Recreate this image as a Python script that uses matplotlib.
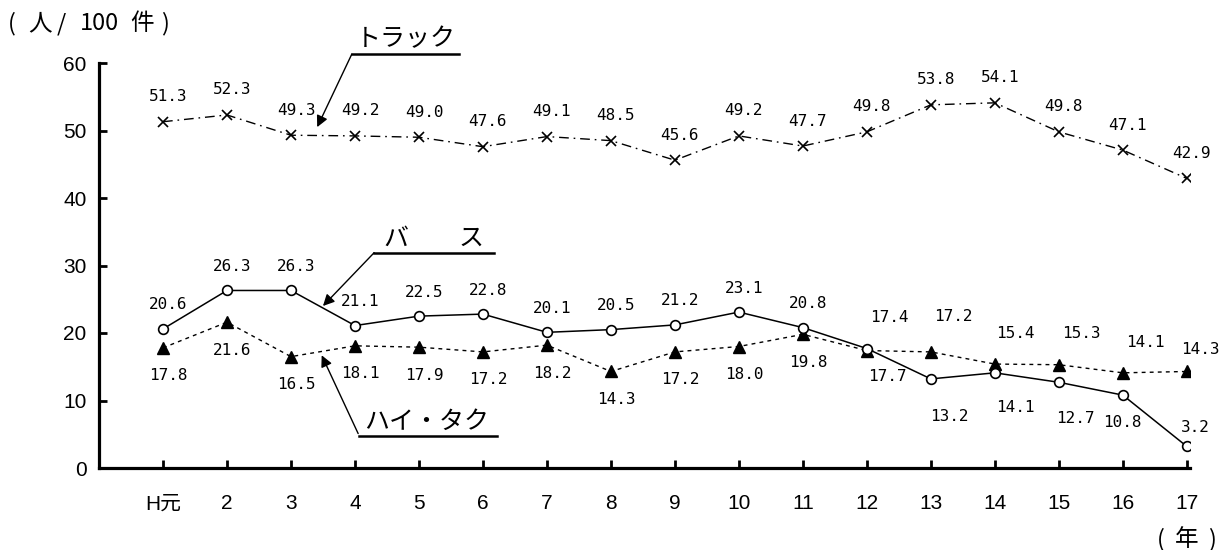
import matplotlib
matplotlib.use("Agg")
import matplotlib.pyplot as plt

plt.rcParams['font.family'] = ['Liberation Sans', 'Noto Sans CJK JP', 'DejaVu Sans']

years = ["H元", "2", "3", "4", "5", "6", "7", "8", "9", "10", "11", "12", "13", "14", "15", "16", "17"]
truck = [51.3, 52.3, 49.3, 49.2, 49.0, 47.6, 49.1, 48.5, 45.6, 49.2, 47.7, 49.8, 53.8, 54.1, 49.8, 47.1, 42.9]
bus = [20.6, 26.3, 26.3, 21.1, 22.5, 22.8, 20.1, 20.5, 21.2, 23.1, 20.8, 17.7, 13.2, 14.1, 12.7, 10.8, 3.2]
taxi = [17.8, 21.6, 16.5, 18.1, 17.9, 17.2, 18.2, 14.3, 17.2, 18.0, 19.8, 17.4, 17.2, 15.4, 15.3, 14.1, 14.3]
yticks = [0, 10, 20, 30, 40, 50, 60]

# label offsets in pixels (dx, dy; dy positive = up)
truck_off = [(5, 25)] * 17
bus_off = [(5, 24)] * 11 + [(20, -28), (18, -38), (20, -35), (16, -36), (0, -27), (9, 19)]
taxi_off = [(5, -28)] * 11 + [(22, 33), (22, 35), (20, 31), (22, 31), (23, 30), (14, 22)]

W, H = 1231, 550
fig = plt.figure(figsize=(W / 100, H / 100), dpi=100)
ax = fig.add_axes([99 / W, (H - 468) / H, 1091 / W, 405 / H])

x = list(range(len(years)))
ax.plot(x, truck, color='black', lw=1.0, linestyle=(0, (7, 3.5, 1.2, 3.5)),
        marker='x', ms=7, mew=1.2, mec='black', zorder=3)
ax.plot(x, bus, color='black', lw=1.1, linestyle='-',
        marker='o', ms=7, mfc='white', mec='black', mew=1.2, zorder=4)
ax.plot(x, taxi, color='black', lw=1.0, linestyle=(0, (2.8, 3)),
        marker='^', ms=8, mfc='black', mec='black', zorder=3)

lab_font = dict(family='DejaVu Sans Mono', fontsize=11.5, ha='center', va='center')
for series, offs in ((truck, truck_off), (bus, bus_off), (taxi, taxi_off)):
    for i, v in enumerate(series):
        dx, dy = offs[i]
        ax.annotate(f"{v:.1f}", (i, v), xytext=(dx, dy), textcoords='offset pixels',
                    annotation_clip=False, **lab_font)

ax.set_xlim(-1, 16.05)
ax.set_ylim(0, 60)
ax.set_xticks(x)
ax.set_xticklabels(years)
ax.set_yticks(yticks)
for s in ('top', 'right'):
    ax.spines[s].set_visible(False)
for s in ('left', 'bottom'):
    ax.spines[s].set_linewidth(2.3)
ax.tick_params(axis='both', direction='in', length=6, width=2, labelsize=15)
ax.tick_params(axis='x', pad=19)
ax.tick_params(axis='y', pad=9)

# series name callouts
jp = dict(family=['Noto Sans CJK JP'], fontsize=18, ha='center', va='center')
arrow = dict(arrowstyle='-|>', lw=1.0, color='black', mutation_scale=17, shrinkA=0, shrinkB=0)

ax.text(3.80, 63.6, "トラック", clip_on=False, **jp)
ax.plot([2.95, 4.63], [61.3, 61.3], color='black', lw=1.8, clip_on=False)
ax.annotate("", xy=(2.41, 50.5), xytext=(2.95, 61.3), arrowprops=arrow, annotation_clip=False)

ax.text(4.23, 33.9, "バ　　ス", clip_on=False, **jp)
ax.plot([3.30, 5.17], [31.9, 31.9], color='black', lw=1.8, clip_on=False)
ax.annotate("", xy=(2.50, 24.0), xytext=(3.30, 31.9), arrowprops=arrow, annotation_clip=False)

ax.text(4.12, 6.9, "ハイ・タク", clip_on=False, **jp)
ax.plot([3.06, 5.22], [4.74, 4.74], color='black', lw=1.8, clip_on=False)
ax.annotate("", xy=(2.48, 16.7), xytext=(3.05, 5.1), arrowprops=arrow, annotation_clip=False)

# unit labels, laid out piece by piece to match the wide spacing
unit_font = dict(family=['Noto Sans CJK JP'], fontsize=17, ha='center', va='center')
for txt, px in (("(", 12), ("人", 40), ("/", 61), ("100", 99), ("件", 142), (")", 165)):
    fig.text(px / W, 1 - 24 / H, txt, **unit_font)
for txt, px in (("(", 1161), ("年", 1187), (")", 1212)):
    fig.text(px / W, 1 - 540 / H, txt, **unit_font)

fig.savefig("out.png", dpi=100)
